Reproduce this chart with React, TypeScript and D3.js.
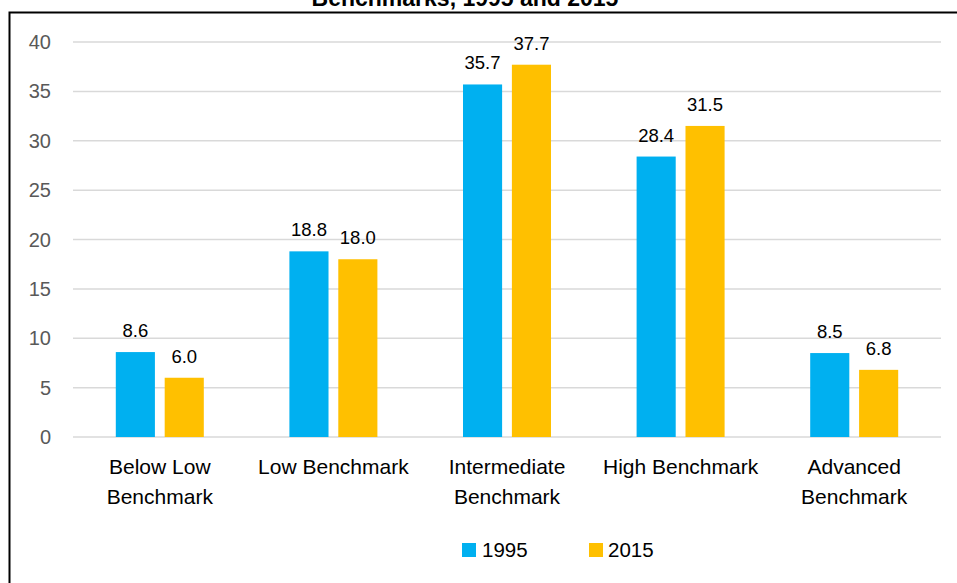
import React from "react";
import * as d3 from "d3";

const categories: string[][] = [
  ["Below Low", "Benchmark"],
  ["Low Benchmark"],
  ["Intermediate", "Benchmark"],
  ["High Benchmark"],
  ["Advanced", "Benchmark"],
];
const series = ["1995", "2015"];
const values1995 = [8.6, 18.8, 35.7, 28.4, 8.5];
const values2015 = [6.0, 18.0, 37.7, 31.5, 6.8];
const yTicks = [0, 5, 10, 15, 20, 25, 30, 35, 40];
const colors = ["#00B0F0", "#FFC000"];
const titleText = "Benchmarks, 1995 and 2015";

const W = 957;
const H = 583;
const FONT = "'Liberation Sans', Arial, sans-serif";

export default function App() {
  const catKeys = categories.map((c) => c.join(" "));
  const x = d3.scaleBand<string>().domain(catKeys).range([73, 941]);
  const inner = d3.scaleBand<string>().domain(series).range([-44, 44]).paddingInner(0.2);
  const y = d3.scaleLinear().domain([0, 40]).range([437, 42]);
  const data = [values1995, values2015];

  return (
    <svg
      width={W}
      height={H}
      style={{ position: "absolute", left: 0, top: 0, background: "#fff" }}
      fontFamily={FONT}
    >
      <rect x={0} y={0} width={W} height={H} fill="#fff" />
      <text x={465} y={6} textAnchor="middle" fontWeight="bold" fontSize={23} fill="#000">
        {titleText}
      </text>
      <rect x={9.5} y={12.5} width={1200} height={1200} fill="none" stroke="#000" strokeWidth={2} />
      {yTicks.map((t) => (
        <g key={t}>
          <line x1={73} x2={941} y1={y(t)} y2={y(t)} stroke="#D9D9D9" strokeWidth={1.5} />
          <text x={51} y={y(t)} dy="0.35em" textAnchor="end" fontSize={20} fill="#595959">
            {t}
          </text>
        </g>
      ))}
      {catKeys.map((c, i) => {
        const cx = (x(c) as number) + x.bandwidth() / 2;
        return (
          <g key={c}>
            {series.map((s, si) => {
              const v = data[si][i];
              const bx = cx + (inner(s) as number);
              return (
                <g key={s}>
                  <rect x={bx} y={y(v)} width={inner.bandwidth()} height={y(0) - y(v)} fill={colors[si]} />
                  <text
                    x={bx + inner.bandwidth() / 2}
                    y={y(v) - 15}
                    textAnchor="middle"
                    fontSize={18.5}
                    fill="#000"
                  >
                    {v.toFixed(1)}
                  </text>
                </g>
              );
            })}
            {categories[i].map((line, li) => (
              <text key={li} x={cx} y={474 + li * 30} textAnchor="middle" fontSize={21} fill="#000">
                {line}
              </text>
            ))}
          </g>
        );
      })}
      <g>
        <rect x={462} y={543} width={14} height={14} fill={colors[0]} />
        <text x={482} y={557} fontSize={20.5} fill="#000">{series[0]}</text>
        <rect x={589} y={543} width={14} height={14} fill={colors[1]} />
        <text x={608} y={557} fontSize={20.5} fill="#000">{series[1]}</text>
      </g>
    </svg>
  );
}
